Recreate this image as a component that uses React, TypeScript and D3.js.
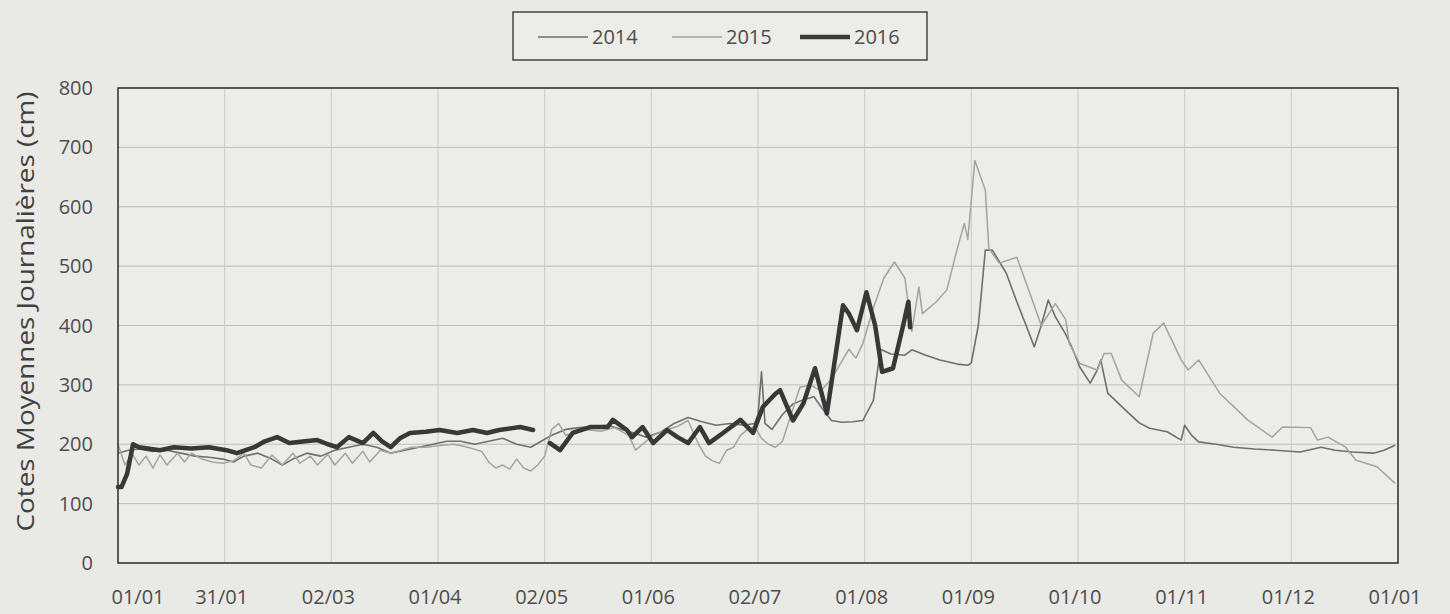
import React, { useEffect } from "react";
import * as d3 from "d3";

// ---- Data (day of year, daily mean stage in cm) ----
const X_TICK_LABELS = ["01/01", "31/01", "02/03", "01/04", "02/05", "01/06", "02/07", "01/08", "01/09", "01/10", "01/11", "01/12", "01/01"];
const Y_TICKS = [0, 100, 200, 300, 400, 500, 600, 700, 800];
const SERIES_NAMES = ["2014", "2015", "2016"];

const data2014: [number, number][] = [
  [0, 185], [3, 190], [6, 192], [10, 188], [14, 190], [18, 185], [22, 180], [26, 178], [30, 175], [33, 170],
  [36, 180], [40, 185], [44, 175], [47, 165], [50, 175], [54, 185], [58, 180], [62, 190], [66, 195], [70, 200],
  [74, 195], [78, 185], [82, 190], [86, 195], [90, 200], [94, 205], [98, 205], [102, 200], [106, 205], [110, 210],
  [114, 200], [118, 195], [121, 205], [124, 215], [128, 225], [132, 228], [136, 230], [140, 232], [144, 225],
  [148, 218], [151, 212], [155, 220], [159, 235], [163, 245], [167, 238], [171, 232], [175, 235], [179, 232],
  [182, 235], [183, 250], [184, 322], [185, 235], [187, 225], [190, 250], [193, 268], [196, 275], [199, 280],
  [202, 255], [204, 240], [207, 237], [210, 238], [213, 240], [216, 274], [218, 360], [221, 352], [225, 350],
  [227, 359], [231, 350], [235, 342], [240, 335], [243, 333], [244, 337], [246, 400], [248, 527], [250, 527],
  [254, 488], [257, 440], [260, 395], [262, 364], [264, 400], [266, 443], [268, 415], [271, 385], [273, 360],
  [275, 330], [278, 303], [280, 325], [281, 342], [283, 286], [288, 258], [292, 236], [295, 227], [300, 221],
  [304, 207], [305, 232], [307, 215], [309, 204], [314, 200], [319, 195], [325, 192], [331, 190], [338, 187],
  [344, 195], [348, 190], [353, 187], [359, 185], [362, 190], [365, 198],
];

const data2015: [number, number][] = [
  [0, 200], [2, 165], [4, 185], [6, 165], [8, 180], [10, 160], [12, 182], [14, 165], [17, 185], [19, 170],
  [21, 185], [24, 175], [27, 170], [30, 168], [33, 172], [36, 185], [38, 165], [41, 160], [44, 182], [47, 165],
  [50, 185], [52, 168], [55, 180], [57, 165], [60, 183], [62, 165], [65, 185], [67, 168], [70, 188], [72, 170],
  [75, 190], [78, 185], [81, 190], [84, 195], [88, 195], [92, 198], [96, 200], [100, 195], [104, 188], [106, 170],
  [108, 160], [110, 165], [112, 158], [114, 175], [116, 160], [118, 155], [120, 165], [122, 180], [124, 225],
  [126, 235], [128, 215], [131, 220], [134, 225], [138, 222], [142, 228], [146, 215], [148, 190], [150, 200],
  [153, 215], [157, 225], [160, 230], [163, 240], [166, 200], [168, 180], [170, 172], [172, 168], [174, 190],
  [176, 195], [178, 215], [180, 225], [182, 230], [184, 210], [186, 200], [188, 195], [190, 205], [193, 260],
  [195, 296], [198, 300], [201, 290], [204, 310], [207, 340], [209, 360], [211, 345], [213, 370], [216, 430],
  [219, 480], [222, 507], [225, 480], [227, 390], [229, 465], [230, 420], [234, 440], [237, 460], [240, 530],
  [242, 572], [243, 545], [245, 678], [248, 628], [249, 530], [252, 505], [257, 515], [261, 450], [264, 400],
  [268, 437], [271, 410], [272, 370], [275, 336], [280, 325], [282, 353], [284, 353], [287, 308], [292, 280],
  [296, 387], [299, 404], [304, 342], [306, 325], [309, 342], [315, 286], [323, 241], [330, 212], [333, 229],
  [341, 228], [343, 207], [346, 212], [351, 195], [354, 173], [360, 162], [365, 135],
];

const data2016: [number, number][] = [
  [0, 128], [1, 128], [2.6, 150], [4.3, 200], [6, 195], [12, 190], [16, 195], [21, 193], [26, 195], [31, 190],
  [34, 185], [39, 195], [42, 205], [45.5, 212], [49, 202], [53.5, 205], [57, 207], [60, 200], [62.6, 195],
  [66, 212], [70, 202], [73, 219], [75.5, 205], [78, 195], [80.6, 210], [83.5, 219], [88, 221], [92, 224],
  [97, 219], [101.5, 224], [105.5, 219], [109, 224], [115, 229], [118.7, 224], [120.5, NaN], [123.5, 202],
  [126.4, 190], [130, 219], [135, 229], [140, 229], [141.5, 241], [145.5, 224], [147, 212], [150, 229],
  [153, 202], [157, 224], [160, 212], [163, 202], [166.4, 229], [169, 202], [173, 219], [178, 241], [181.6, 219],
  [184.4, 263], [188, 285], [189.3, 291], [193, 240], [196, 269], [199.3, 328], [202.7, 252], [207.3, 434],
  [209, 420], [211.3, 392], [214, 456], [216.5, 400], [218.5, 322], [221.6, 328], [224.5, 400], [226, 440],
  [226.5, 397],
];

// ---- Layout ----
const W = 1450;
const H = 614;
const M = { left: 118, right: 1398, top: 88, bottom: 563 };
const BG = "#e9e9e5";
const TEXT = "#4d4d4d";
const FONT = "'Open Sans', 'Noto Sans', sans-serif";

export default function App() {
  useEffect(() => {
    document.body.style.margin = "0";
    document.body.style.background = BG;
  }, []);

  const x = d3.scaleLinear().domain([0, 366]).range([M.left, M.right]);
  const y = d3.scaleLinear().domain([0, 800]).range([M.bottom, M.top]);
  const xTicks = X_TICK_LABELS.map((_, i) => i * 30.5);

  const line = d3
    .line<[number, number]>()
    .defined((d) => !isNaN(d[1]))
    .x((d) => x(d[0]))
    .y((d) => y(d[1]))
    .curve(d3.curveLinear);

  const styles = [
    { stroke: "#6f6f6f", width: 1.6 },
    { stroke: "#a3a3a0", width: 1.5 },
    { stroke: "#383838", width: 4.5 },
  ];
  const series = [data2014, data2015, data2016];

  const legendItems = [
    { lx: 538, tx: 592 },
    { lx: 672, tx: 726 },
    { lx: 800, tx: 854 },
  ];

  return (
    <svg width={W} height={H} style={{ display: "block", background: BG }}>
      <rect x={0} y={0} width={W} height={H} fill={BG} />
      <rect x={M.left} y={M.top} width={M.right - M.left} height={M.bottom - M.top} fill="#ecece9" />
      {/* grid */}
      {Y_TICKS.map((t) => (
        <line key={"gy" + t} x1={M.left} x2={M.right} y1={y(t)} y2={y(t)} stroke="#bdbdba" strokeWidth={1} />
      ))}
      {xTicks.map((t, i) => (
        <line key={"gx" + i} x1={x(t)} x2={x(t)} y1={M.top} y2={M.bottom} stroke="#cacac6" strokeWidth={1} />
      ))}
      {/* series */}
      {series.map((s, i) => (
        <path
          key={"s" + i}
          d={line(s) || ""}
          fill="none"
          stroke={styles[i].stroke}
          strokeWidth={styles[i].width}
          strokeLinejoin="round"
          strokeLinecap="round"
        />
      ))}
      {/* frame */}
      <rect
        x={M.left}
        y={M.top}
        width={M.right - M.left}
        height={M.bottom - M.top}
        fill="none"
        stroke="#3a3a3a"
        strokeWidth={1.6}
      />
      {/* y ticks */}
      {Y_TICKS.map((t) => (
        <text key={"yt" + t} x={93} y={y(t)} dy="0.35em" textAnchor="end" fontSize={20} fill={TEXT} fontFamily={FONT}>
          {t}
        </text>
      ))}
      {/* x ticks */}
      {xTicks.map((t, i) => (
        <text
          key={"xt" + i}
          x={i === 0 ? x(t) + 20 : x(t) - 3}
          y={604}
          textAnchor="middle"
          fontSize={20}
          fill={TEXT}
          fontFamily={FONT}
        >
          {X_TICK_LABELS[i]}
        </text>
      ))}
      {/* y label */}
      <text
        transform={`translate(34, ${(M.top + M.bottom) / 2 - 14}) rotate(-90)`}
        textAnchor="middle"
        fontSize={24}
        textLength={440}
        lengthAdjust="spacingAndGlyphs"
        fill="#404040"
        fontFamily={FONT}
      >
        Cotes Moyennes Journalières (cm)
      </text>
      {/* legend */}
      <rect x={513} y={12} width={414} height={48} fill="#ecece9" stroke="#3a3a3a" strokeWidth={1.4} />
      {SERIES_NAMES.map((n, i) => (
        <g key={"lg" + n}>
          <line
            x1={legendItems[i].lx}
            x2={legendItems[i].lx + 50}
            y1={37}
            y2={37}
            stroke={styles[i].stroke}
            strokeWidth={styles[i].width}
          />
          <text x={legendItems[i].tx} y={37} dy="0.35em" fontSize={20} fill={TEXT} fontFamily={FONT}>
            {n}
          </text>
        </g>
      ))}
    </svg>
  );
}
